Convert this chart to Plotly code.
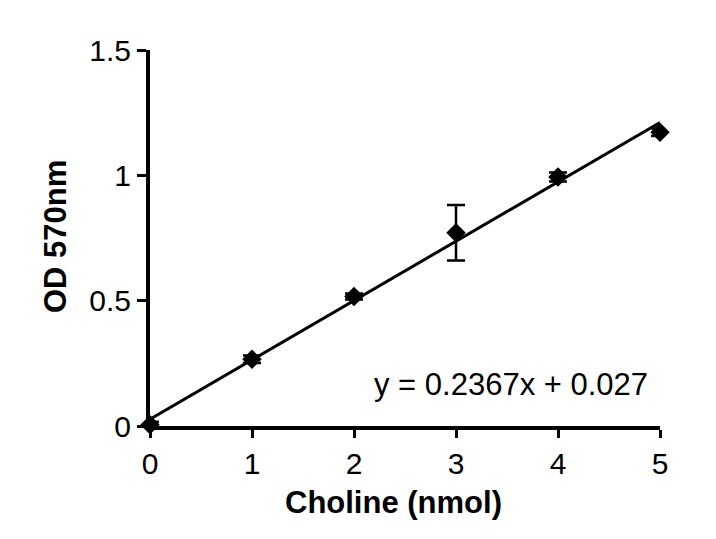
import plotly.graph_objects as go

choline = [0, 1, 2, 3, 4, 5]
od570 = [0.005, 0.266, 0.517, 0.771, 0.993, 1.172]
od_err = [0.012, 0.015, 0.012, 0.111, 0.018, 0.015]
slope, intercept = 0.2367, 0.027
fit_x = [0, 5]
fit_y = [slope * v + intercept for v in fit_x]
x_ticks = [0, 1, 2, 3, 4, 5]
y_ticks = [0, 0.5, 1, 1.5]
y_ticklabels = ["0", "0.5", "1", "1.5"]

font = "Liberation Sans, Arial, sans-serif"

fig = go.Figure()
fig.add_trace(go.Scatter(
    x=fit_x, y=fit_y, mode="lines",
    line=dict(color="black", width=3), cliponaxis=False, showlegend=False,
))
fig.add_trace(go.Scatter(
    x=choline, y=od570, mode="markers",
    marker=dict(symbol="diamond", size=15, color="black"),
    error_y=dict(type="data", array=od_err, color="black", thickness=2.5, width=9),
    cliponaxis=False, showlegend=False,
))

fig.add_annotation(
    x=4.9, y=0.164, xref="x", yref="y", xanchor="right", yanchor="middle",
    text="y = 0.2367x + 0.027", showarrow=False,
    font=dict(family=font, size=31, color="black"),
)
fig.add_annotation(
    x=(393.5 - 150) / 510, y=-(502 - 426) / 376, xref="paper", yref="paper",
    xanchor="center", yanchor="middle", text="<b>Choline (nmol)</b>",
    showarrow=False, font=dict(family=font, size=31, color="black"),
)
fig.add_annotation(
    x=-(150 - 55) / 510, y=(426 - 237) / 376, xref="paper", yref="paper",
    xanchor="center", yanchor="middle", text="<b>OD 570nm</b>", textangle=-90,
    showarrow=False, font=dict(family=font, size=31, color="black"),
)

fig.update_layout(
    width=716, height=539,
    margin=dict(l=150, r=56, t=50, b=113),
    paper_bgcolor="white", plot_bgcolor="white",
    font=dict(family=font, size=30, color="black"),
)
fig.update_xaxes(
    range=[0, 5], tickvals=x_ticks, ticks="outside", ticklen=8, tickwidth=3,
    tickcolor="black", showline=True, linecolor="black", linewidth=4,
    showgrid=False, zeroline=False,
    tickfont=dict(family=font, size=30, color="black"),
)
fig.update_yaxes(
    range=[0, 1.5], tickvals=y_ticks, ticktext=y_ticklabels, ticks="outside",
    ticklen=9, tickwidth=3, tickcolor="black", showline=True, linecolor="black",
    linewidth=4, showgrid=False, zeroline=False,
    tickfont=dict(family=font, size=30, color="black"),
)

fig.write_html("out.html")
